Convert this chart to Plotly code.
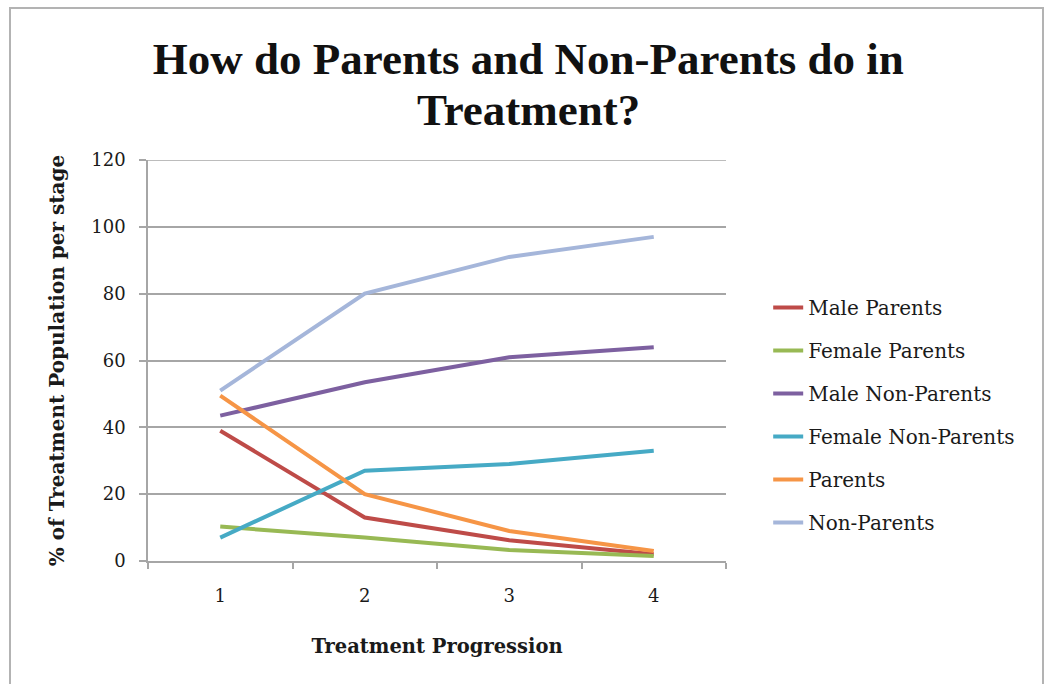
import plotly.graph_objects as go

# Treatment stages on the category axis
stages = [1, 2, 3, 4]
stage_labels = ["1", "2", "3", "4"]

# Share of the treatment population at each stage (%)
male_parents = [39, 13, 6.2, 2]
female_parents = [10.3, 7, 3.3, 1.5]
male_non_parents = [43.5, 53.5, 61, 64]
female_non_parents = [7, 27, 29, 33]
parents = [49.5, 20, 9, 3]
non_parents = [51, 80, 91, 97]

series_names = ["Male Parents", "Female Parents", "Male Non-Parents",
                "Female Non-Parents", "Parents", "Non-Parents"]
series_values = [male_parents, female_parents, male_non_parents,
                 female_non_parents, parents, non_parents]
series_colors = ["#BE4B48", "#98B954", "#7D60A0", "#46AAC5", "#F69546", "#A5B6DA"]

y_ticks = [0, 20, 40, 60, 80, 100, 120]

SERIF = "DejaVu Serif"
TITLE_FONT = dict(family="Liberation Serif", size=45, color="#111111", weight="bold")
TEXT = "#1a1a1a"
AXIS = "#A6A6A6"

# Plot area in pixels (used to place the frame and title lines in paper units)
PL, PR, PT, PB = 148, 726, 160, 561
PW, PH = PR - PL, PB - PT

fig = go.Figure()
for i, (name, vals, col) in enumerate(zip(series_names, series_values, series_colors)):
    fig.add_trace(go.Scatter(
        x=stages, y=vals, name=name, mode="lines",
        line=dict(color=col, width=4),
        legendgroup=f"g{i}",
    ))

fig.update_layout(
    width=1044, height=684,
    margin=dict(l=PL, r=1044 - PR, t=PT, b=684 - PB),
    paper_bgcolor="white", plot_bgcolor="white",
    title=dict(
        text="How do Parents and Non-Parents do in",
        font=TITLE_FONT,
        x=0.506, xanchor="center", y=1 - 58 / 684, yanchor="middle",
    ),
    showlegend=True,
    legend=dict(
        x=1.073, xanchor="left", y=0.364, yanchor="middle",
        font=dict(family=SERIF, size=20, color=TEXT),
        tracegroupgap=14, bgcolor="rgba(0,0,0,0)",
    ),
    xaxis=dict(
        range=[0.5, 4.5], tickvals=stages, ticktext=stage_labels,
        ticks="", showgrid=False, zeroline=False,
        showline=True, linecolor=AXIS, linewidth=1.5,
        tickfont=dict(family=SERIF, size=18, color=TEXT),
        ticklabelstandoff=18,
        minor=dict(tick0=0.5, dtick=1, ticks="outside", ticklen=6,
                   tickcolor=AXIS, tickwidth=1.5, showgrid=False),
        title=dict(text="Treatment Progression", standoff=34,
                   font=dict(family=SERIF, size=19.5, color=TEXT, weight="bold")),
    ),
    yaxis=dict(
        range=[0, 120], tickvals=y_ticks,
        showgrid=True, gridcolor=AXIS, gridwidth=1.5, zeroline=False,
        showline=True, linecolor=AXIS, linewidth=1.5,
        ticks="outside", ticklen=7, tickcolor=AXIS, tickwidth=1.5,
        tickfont=dict(family=SERIF, size=18, color=TEXT),
        ticklabelstandoff=10,
        title=dict(text="% of Treatment Population per stage", standoff=21,
                   font=dict(family=SERIF, size=20, color=TEXT, weight="bold")),
    ),
)

# Second line of the chart title
fig.add_annotation(text="Treatment?", xref="paper", yref="paper",
                   x=(528 - PL) / PW, y=(PB - 110) / PH,
                   xanchor="center", yanchor="middle", showarrow=False,
                   font=TITLE_FONT)

# Top gridline at the upper end of the value axis
fig.add_shape(type="line", xref="paper", yref="y", x0=0, x1=1, y0=120, y1=120,
              line=dict(color=AXIS, width=1.5), layer="below")

# Light frame around the whole chart
fig.add_shape(type="rect", xref="paper", yref="paper",
              x0=(10 - PL) / PW, x1=(1043 - PL) / PW,
              y0=(PB - 700) / PH, y1=(PB - 8) / PH,
              line=dict(color="#B3B3B3", width=2), fillcolor="rgba(0,0,0,0)", layer="below")

fig.write_html("out.html")
